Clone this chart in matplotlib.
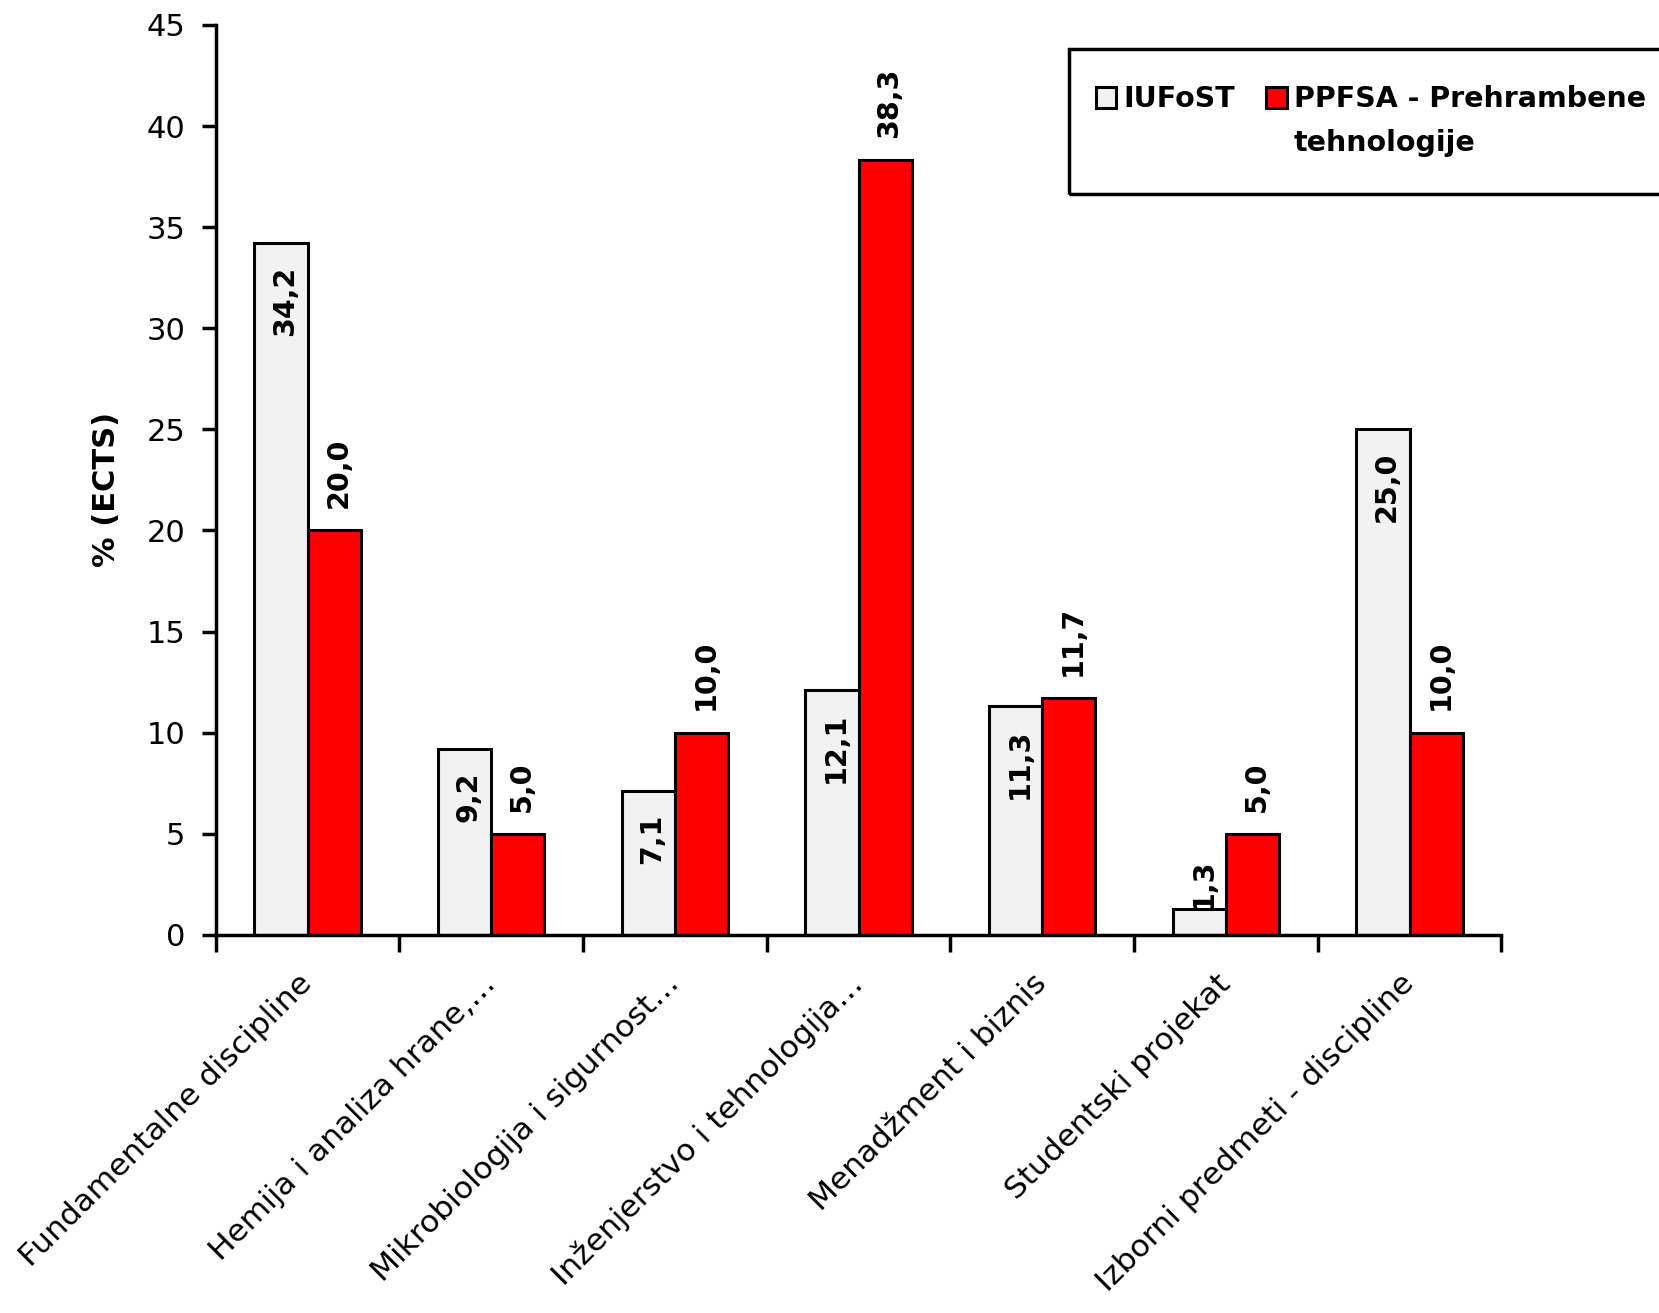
import matplotlib
matplotlib.use('Agg')
import matplotlib.pyplot as plt
import numpy as np
from matplotlib.patches import Rectangle

plt.rcParams['font.family'] = ['DejaVu Sans']

categories = [
    'Fundamentalne discipline',
    'Hemija i analiza hrane,…',
    'Mikrobiologija i sigurnost…',
    'Inženjerstvo i tehnologija…',
    'Menadžment i biznis',
    'Studentski projekat',
    'Izborni predmeti - discipline',
]
iufost = [34.2, 9.2, 7.1, 12.1, 11.3, 1.3, 25.0]
ppfsa = [20.0, 5.0, 10.0, 38.3, 11.7, 5.0, 10.0]
series_names = ['IUFoST', 'PPFSA - Prehrambene\ntehnologije']

GRAY = '#F2F2F2'
RED = '#FF0000'

fig = plt.figure(figsize=(16.59, 13.13), dpi=100)
ax = fig.add_axes([0.130, 0.288, 0.775, 0.693])

x = np.arange(len(categories))
w = 0.29
b1 = ax.bar(x - w / 2, iufost, w, color=GRAY, edgecolor='black', linewidth=2.2)
b2 = ax.bar(x + w / 2, ppfsa, w, color=RED, edgecolor='black', linewidth=2.2)

fmt = lambda v: f'{v:.1f}'.replace('.', ',')

# IUFoST labels sit inside the bar top; too-short bars get the label on top
for rect, v in zip(b1, iufost):
    cx = rect.get_x() + rect.get_width() / 2
    if v > 4:
        ax.annotate(fmt(v), (cx, v), xytext=(3, -16), textcoords='offset points',
                    rotation=90, ha='center', va='top', fontsize=20.5, fontweight='bold')
    else:
        ax.annotate(fmt(v), (cx, v), xytext=(3, 0), textcoords='offset points',
                    rotation=90, ha='center', va='bottom', fontsize=20.5, fontweight='bold')

for rect, v in zip(b2, ppfsa):
    cx = rect.get_x() + rect.get_width() / 2
    ax.annotate(fmt(v), (cx, v), xytext=(3, 16), textcoords='offset points',
                rotation=90, ha='center', va='bottom', fontsize=20.5, fontweight='bold')

ax.set_xlim(-0.5, len(categories) - 0.5)
ax.set_ylim(0, 45)
ax.set_yticks(np.arange(0, 46, 5))
ax.tick_params(axis='y', labelsize=22, length=10, width=2.5, pad=12, direction='out')

ax.set_xticks(x)
ax.set_xticklabels(categories, rotation=45, ha='right', va='center',
                   rotation_mode='anchor', fontsize=22.5)
ax.tick_params(axis='x', which='major', length=0, pad=32)
ax.set_xticks(np.arange(-0.5, len(categories), 1), minor=True)
ax.tick_params(axis='x', which='minor', length=12, width=2.5, direction='out')

for s in ['top', 'right']:
    ax.spines[s].set_visible(False)
for s in ['left', 'bottom']:
    ax.spines[s].set_linewidth(2.5)

ax.set_ylabel('% (ECTS)', fontsize=22, fontweight='bold')
ax.yaxis.set_label_coords(-0.074, 0.49)

# legend box runs off the right edge like in the source
fig.patches.append(Rectangle((0.6443, 0.8522), 0.40, 0.1105, transform=fig.transFigure,
                             facecolor='none', edgecolor='black', linewidth=2.5,
                             clip_on=False))
first = [n.split('\n')[0] for n in series_names]
leg = fig.legend(handles=[b1, b2], labels=first, ncol=2, frameon=False,
                 loc='upper left', bbox_to_anchor=(0.6605, 0.935),
                 prop={'size': 20.5, 'weight': 'bold'},
                 handlelength=0.72, handleheight=0.72, handletextpad=0.25,
                 columnspacing=1.1, borderaxespad=0, borderpad=0)

# wrapped part of the second legend entry, left-aligned under its first line
fig.canvas.draw()
bb = leg.get_texts()[1].get_window_extent()
fig.text(bb.x0, bb.y0 - 16, series_names[1].split('\n')[1], transform=None,
         ha='left', va='top', fontsize=20.5, fontweight='bold')

fig.savefig('out.png', dpi=100)
